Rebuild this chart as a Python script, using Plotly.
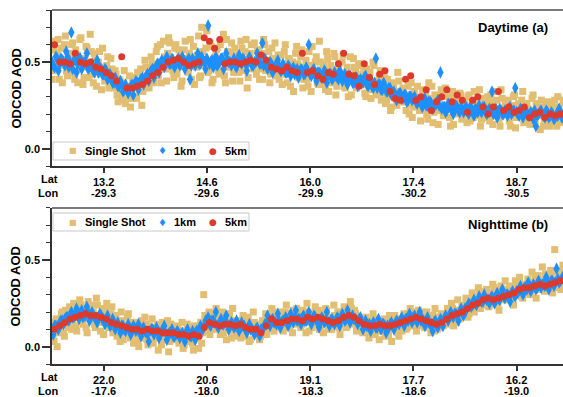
import numpy as np
import plotly.graph_objects as go

# ---------------- data (AOD values in hundredths) ----------------
day_lat = ["13.2", "14.6", "16.0", "17.4", "18.7"]
day_lon = ["-29.3", "-29.6", "-29.9", "-30.2", "-30.5"]
night_lat = ["22.0", "20.6", "19.1", "17.7", "16.2"]
night_lon = ["-17.6", "-18.0", "-18.3", "-18.6", "-19.0"]
tick_index = [10, 30, 50, 70, 90]
legend_names = ["Single Shot", "1km", "5km"]

day_5km = [60,50,50,49,55,50,49,50,47,46,
           44,42,39,53,35,35,36,37,39,42,
           44,47,50,51,52,50,48,49,50,64,
           62,58,63,49,50,50,49,50,51,50,
           54,51,47,46,45,47,45,44,55,44,
           45,42,40,44,43,49,55,43,42,36,
           49,41,37,43,45,33,29,28,40,42,
           28,30,34,22,27,30,34,27,31,28,
           21,28,30,24,20,24,33,22,24,21,
           22,24,18,20,21,18,20,19,20,19]

day_1km_a = [48,53,45,52,50,56,47,67,51,44,
             52,46,50,55,47,49,44,51,47,43,
             46,40,43,38,41,36,39,33,37,32,
             36,31,39,34,40,37,42,39,45,41,
             48,44,51,47,53,49,52,47,51,48,
             53,46,50,40,52,48,55,49,51,46,
             71,50,47,53,49,52,46,55,50,48,
             52,47,54,49,51,45,53,48,50,55,
             49,61,52,46,50,44,48,51,45,49,
             44,48,42,47,45,41,46,43,47,60,
             42,46,39,44,41,45,38,43,40,44,
             41,45,39,43,37,42,38,41,36,40,
             38,42,36,40,35,52,37,34,38,33,
             35,31,33,28,32,29,31,27,30,28,
             30,26,28,24,29,25,27,23,26,28,
             44,24,21,26,23,20,25,22,24,21,
             24,20,23,19,22,25,21,24,20,23,
             33,21,18,23,20,22,19,24,21,35,
             20,23,18,22,19,21,17,13,20,22,
             19,22,18,21,17,20,23,18,21,19]

day_1km_b = [50,47,52,49,51,48,53,50,46,51,
             49,52,48,50,46,48,45,47,44,46,
             43,45,41,40,38,39,36,37,34,35,
             34,37,36,38,39,41,40,43,44,46,
             46,49,48,50,51,50,49,51,50,52,
             49,51,50,52,48,50,51,49,53,50,
             52,49,51,50,48,50,52,49,51,50,
             50,48,51,50,52,49,50,51,48,50,
             51,49,48,50,47,49,46,48,47,45,
             46,44,47,45,43,46,44,45,43,45,
             43,45,42,44,43,41,44,42,43,41,
             42,40,43,41,39,42,40,38,41,39,
             39,41,37,39,36,38,35,37,34,36,
             33,35,32,31,30,32,29,31,28,30,
             29,27,28,26,27,25,27,26,24,26,
             25,23,24,22,25,23,22,24,21,23,
             23,21,24,22,23,21,22,24,21,22,
             22,20,23,21,22,20,21,23,20,22,
             21,19,22,20,21,19,20,22,19,21,
             20,18,21,19,20,18,19,21,18,20]

day_single_a = [62,45,55,40,58,48,65,42,53,60,
                44,57,38,63,50,41,59,47,66,43,
                55,36,50,43,58,39,48,35,52,41,
                45,31,40,28,38,26,33,42,29,37,
                30,44,34,25,40,47,36,43,49,38,
                56,42,60,47,53,39,64,50,45,58,
                43,57,36,52,62,46,55,40,59,48,
                54,41,70,48,58,44,61,38,52,57,
                45,60,50,42,63,47,55,39,58,51,
                44,62,48,56,35,53,60,46,50,57,
                40,55,63,45,51,38,58,49,42,54,
                48,37,56,43,52,36,50,44,59,41,
                53,35,47,40,56,33,45,50,38,62,
                41,48,34,52,45,38,55,31,46,42,
                50,36,44,30,53,41,47,35,49,38,
                43,32,46,36,29,50,38,33,42,28,
                37,26,40,31,24,35,29,44,27,33,
                30,22,36,26,18,33,25,29,16,34,
                28,20,38,24,15,31,22,26,34,19,
                35,25,18,29,14,27,21,32,17,26,
                20,30,16,25,33,19,27,13,24,29,
                18,26,31,14,23,28,17,34,21,25,
                27,16,24,30,12,22,19,28,15,25,
                23,14,29,18,26,20,11,24,17,27,
                15,25,20,28,13,22,18,26,16,23]

day_single_b = [40,57,47,63,52,38,60,45,55,49,
                61,40,54,46,64,37,52,58,41,56,
                38,51,44,56,34,47,40,53,37,46,
                35,43,27,39,32,45,30,36,24,41,
                41,29,38,46,33,51,42,35,53,44,
                44,59,50,38,62,46,55,61,48,41,
                60,47,53,39,57,50,44,63,51,37,
                47,65,42,56,50,68,45,59,40,53,
                58,43,52,66,38,56,48,61,44,54,
                52,39,58,45,63,41,55,49,61,43,
                57,46,40,60,48,56,43,52,61,45,
                40,54,45,60,38,51,47,33,55,49,
                46,57,40,51,36,48,59,42,53,37,
                50,37,45,56,33,48,40,53,36,49,
                43,54,35,47,40,31,52,44,38,48,
                37,47,30,41,44,34,48,31,39,45,
                32,41,28,36,22,38,33,25,39,30,
                35,27,31,20,38,24,30,36,22,28,
                23,33,17,29,36,21,27,14,30,24,
                21,30,25,13,33,20,28,24,31,19,
                26,15,31,22,18,28,21,34,17,27,
                24,30,16,27,19,33,22,13,29,20,
                20,28,13,25,31,18,26,22,33,17,
                26,17,22,31,15,24,19,28,13,21,
                22,13,27,17,24,30,15,21,28,18]

night_5km = [10,12,14,16,17,18,19,18,18,17,
             16,14,13,12,11,10,10,9,10,9,
             9,8,8,8,7,7,6,7,6,11,
             14,13,12,13,13,12,13,11,10,10,
             8,12,16,14,14,15,16,16,15,17,
             16,17,16,15,14,15,17,18,17,15,
             13,12,12,13,12,12,13,14,15,16,
             17,16,15,14,13,14,16,18,19,20,
             22,24,25,27,28,27,28,29,30,31,
             33,34,34,35,36,35,36,37,38,39]

night_1km_a = [7,12,10,15,13,17,15,20,17,22,
               16,21,18,23,15,20,17,14,19,16,
               13,18,12,16,10,14,8,12,9,13,
               7,12,9,13,6,11,8,3,10,7,
               11,5,9,12,4,8,10,6,9,5,
               8,3,10,6,9,4,8,12,10,15,
               17,12,15,20,11,16,13,18,10,14,
               11,15,9,14,12,8,13,10,7,11,
               6,10,13,18,12,16,14,19,11,15,
               17,12,19,14,21,16,13,18,15,20,
               13,18,15,11,17,14,20,12,16,13,
               17,12,19,15,21,14,18,16,13,17,
               10,15,12,9,14,11,16,10,13,8,
               11,14,10,15,13,17,12,16,19,14,
               18,14,20,16,12,17,13,9,15,11,
               16,12,18,15,20,17,19,15,22,18,
               21,25,23,27,24,29,26,30,27,25,
               29,25,31,27,33,28,30,26,32,29,
               31,35,30,34,37,32,36,33,38,34,
               36,40,33,38,35,45,37,39,42,38]

night_1km_b = [10,12,11,14,15,16,17,18,17,19,
               18,19,17,18,20,17,18,16,17,18,
               16,15,14,13,14,12,11,12,10,11,
               10,9,11,10,8,10,9,8,9,10,
               9,8,7,9,8,7,8,6,7,8,
               7,6,8,7,6,7,9,10,11,12,
               14,13,15,14,12,14,13,15,13,12,
               13,12,13,11,12,10,11,10,9,10,
               9,10,11,13,14,15,14,13,15,14,
               15,16,14,16,17,15,16,17,15,16,
               16,15,17,15,14,16,15,14,15,14,
               15,16,15,17,16,18,17,16,15,16,
               14,13,12,13,12,13,11,12,13,12,
               12,13,12,13,14,15,14,16,15,16,
               17,16,17,15,15,14,14,13,14,13,
               14,15,16,17,17,18,19,18,20,19,
               22,23,24,24,25,26,27,26,28,27,
               28,27,29,28,30,29,30,29,31,30,
               32,33,32,34,33,35,34,35,34,36,
               36,35,37,36,38,37,39,38,40,39]

night_single_a = [5,14,0,12,19,8,21,13,23,10,
                  25,12,20,27,15,22,11,26,18,24,
                  13,28,17,9,22,15,25,11,19,8,
                  16,6,13,20,4,11,17,7,14,2,
                  12,3,9,15,5,13,1,10,16,6,
                  11,-2,8,14,4,10,-3,13,6,9,
                  12,2,9,-1,7,13,3,10,-2,8,
                  5,12,2,30,9,16,7,19,12,22,
                  15,7,20,11,4,17,9,22,13,6,
                  14,5,18,9,16,3,12,20,7,11,
                  4,13,8,19,11,16,22,9,18,13,
                  20,10,17,24,12,19,8,15,22,14,
                  11,21,14,25,9,18,13,23,16,10,
                  19,8,22,13,17,10,24,14,20,7,
                  16,23,11,19,26,13,21,9,17,12,
                  8,16,11,5,14,19,7,13,4,10,
                  15,6,12,18,3,11,16,8,14,9,
                  19,10,16,22,12,18,9,21,14,17,
                  11,20,13,8,18,22,10,15,19,12,
                  14,22,17,25,12,20,27,16,23,18,
                  28,17,25,31,20,27,34,22,30,24,
                  33,23,30,36,26,32,21,35,29,38,
                  27,35,31,24,38,33,40,29,36,31,
                  39,30,43,35,28,41,37,46,32,40,
                  35,44,31,56,38,42,33,47,39,52]

night_single_b = [10,3,16,8,12,20,6,15,11,18,
                  14,21,9,17,24,13,19,8,22,16,
                  20,11,24,14,18,7,21,13,16,23,
                  9,18,11,3,15,8,12,19,5,13,
                  7,14,0,11,8,17,4,12,9,2,
                  5,13,9,1,12,7,15,3,11,5,
                  4,10,6,14,1,9,5,11,2,12,
                  11,-1,14,8,18,11,20,10,15,19,
                  10,18,14,8,16,12,19,5,15,11,
                  9,15,11,6,13,17,4,10,14,8,
                  10,6,15,12,7,17,14,20,11,16,
                  12,17,9,20,15,11,18,21,13,17,
                  19,13,17,8,20,15,11,19,14,21,
                  12,17,14,21,10,16,12,18,15,11,
                  20,14,18,12,16,22,14,19,11,15,
                  14,9,17,12,8,15,11,16,9,14,
                  10,16,13,7,15,11,18,12,6,13,
                  13,17,11,19,15,20,13,17,12,20,
                  16,13,18,12,15,9,17,14,11,16,
                  18,13,20,15,22,17,14,21,19,24,
                  22,26,19,24,29,23,27,32,25,28,
                  27,31,24,29,34,28,25,31,27,33,
                  32,29,34,27,31,36,30,34,28,35,
                  33,37,31,36,40,34,38,33,36,42,
                  40,36,43,38,34,41,37,44,40,36]

# ---------------- styling ----------------
FONT = "Liberation Sans, Arial, Helvetica, sans-serif"
SYMFONT = "DejaVu Sans, sans-serif"
C_SS = "#E2BE72"
C_1K = "#1E8FFF"
C_5K = "#DC3A2C"
AX = "#333333"
BOLD11 = dict(family=FONT, size=11, color="black", weight="bold")
BOLD13 = dict(family=FONT, size=13, color="black", weight="bold")


def positions(values, offset=0.5):
    n = len(values)
    return (np.arange(n) + offset) * 100.0 / n


def two_pass(a, b):
    x = np.concatenate([positions(a, 0.5), positions(b, 0.0)])
    y = np.concatenate([np.array(a), np.array(b)]) / 100.0
    return x, y


fig = go.Figure()

panels = [
    ("x", "y", day_single_a, day_single_b, day_1km_a, day_1km_b, day_5km),
    ("x2", "y2", night_single_a, night_single_b, night_1km_a, night_1km_b, night_5km),
]
for xa, ya, ssa, ssb, k1a, k1b, k5 in panels:
    xs, ys = two_pass(ssa, ssb)
    fig.add_trace(go.Scatter(x=xs, y=ys, mode="markers", name=legend_names[0],
                             xaxis=xa, yaxis=ya, showlegend=False,
                             marker=dict(symbol="square", size=7, color=C_SS, line=dict(width=0))))
    xk, yk = two_pass(k1a, k1b)
    fig.add_trace(go.Scatter(x=xk, y=yk, mode="markers", name=legend_names[1],
                             xaxis=xa, yaxis=ya, showlegend=False,
                             marker=dict(symbol="diamond-tall", size=9, color=C_1K, line=dict(width=0))))
    fig.add_trace(go.Scatter(x=positions(k5), y=np.array(k5) / 100.0, mode="markers",
                             name=legend_names[2], xaxis=xa, yaxis=ya, showlegend=False,
                             marker=dict(symbol="circle", size=7, color=C_5K, line=dict(width=0))))

top_dom = [0.5593, 1.0]
bot_dom = [0.0, 0.4407]

xcommon = dict(range=[0, 99], showline=True, linecolor=AX, linewidth=1.5,
               ticks="outside", ticklen=5, tickwidth=1.5, tickcolor=AX,
               showgrid=False, zeroline=False, tickvals=tick_index, tickfont=BOLD11)
ycommon = dict(range=[-0.1, 0.8], showline=True, linecolor=AX, linewidth=1.5,
               ticks="outside", ticklen=8, tickwidth=1.5, tickcolor=AX,
               showgrid=False, zeroline=False, tickvals=[0.0, 0.5],
               tickformat=".1f",
               minor=dict(dtick=0.1, tick0=0, ticks="outside", ticklen=4,
                          tickcolor=AX, tickwidth=1, showgrid=False),
               tickfont=BOLD11)

fig.update_layout(
    width=563, height=397,
    margin=dict(l=52, r=0, t=10, b=33),
    paper_bgcolor="white", plot_bgcolor="white",
    font=dict(family=FONT, size=11, color="black"),
    xaxis=dict(xcommon, domain=[0, 1], anchor="y", ticktext=day_lat),
    yaxis=dict(ycommon, domain=top_dom, anchor="x"),
    xaxis2=dict(xcommon, domain=[0, 1], anchor="y2", ticktext=night_lat),
    yaxis2=dict(ycommon, domain=bot_dom, anchor="x2"),
    showlegend=False,
)

# frame top lines
for yd in (top_dom, bot_dom):
    fig.add_shape(type="line", xref="paper", yref="paper", x0=0, x1=1, y0=yd[1], y1=yd[1],
                  line=dict(color="#7A7A7A", width=2))

annots = [
    dict(text="Daytime (a)", xref="paper", yref="paper", x=0.975, y=top_dom[1],
         xanchor="right", yanchor="middle", yshift=-17, showarrow=False, font=BOLD13),
    dict(text="Nighttime (b)", xref="paper", yref="paper", x=0.975, y=bot_dom[1],
         xanchor="right", yanchor="middle", yshift=-17, showarrow=False, font=BOLD13),
]
for xr, yr, yd, lons in (("x", "y domain", top_dom, day_lon), ("x2", "y2 domain", bot_dom, night_lon)):
    # y-axis title
    annots.append(dict(text="ODCOD AOD", xref="paper", yref="paper", x=-0.0695,
                       y=(yd[0] + yd[1]) / 2, textangle=-90, xanchor="center", yanchor="middle",
                       showarrow=False, font=BOLD13))
    # Lat / Lon row labels
    annots.append(dict(text="Lat", xref="paper", yref=yr, x=0, y=0, xanchor="center",
                       yanchor="middle", xshift=-3, yshift=-13, showarrow=False, font=BOLD11))
    annots.append(dict(text="Lon", xref="paper", yref=yr, x=0, y=0, xanchor="center",
                       yanchor="middle", xshift=-4, yshift=-27, showarrow=False, font=BOLD11))
    # second tick-label row (longitude)
    for tv, lon in zip(tick_index, lons):
        annots.append(dict(text=lon, xref=xr, yref=yr, x=tv, y=0, xanchor="center",
                           yanchor="middle", yshift=-27, showarrow=False, font=BOLD11))

# legends (one box per panel)
legend_boxes = [(0.5763, 0.6271, 0.6017), (0.3757, 0.4266, 0.4011)]
sym_x = [0.0411, 0.2153, 0.3151]
txt_x = [0.0607, 0.2348, 0.3346]
symbols = [("\u25A0", C_SS, 8), ("\u2666", C_1K, 10), ("\u25CF", C_5K, 9)]
for y0, y1, yc in legend_boxes:
    fig.add_shape(type="rect", xref="paper", yref="paper", x0=0.002, x1=0.3855, y0=y0, y1=y1,
                  line=dict(color="#C8C8C8", width=1), fillcolor="white", layer="above")
    for (ch, col, sz), sx, tx, name in zip(symbols, sym_x, txt_x, legend_names):
        annots.append(dict(text=ch, xref="paper", yref="paper", x=sx, y=yc,
                           xanchor="center", yanchor="middle", showarrow=False,
                           font=dict(family=SYMFONT, size=sz, color=col)))
        annots.append(dict(text=name, xref="paper", yref="paper", x=tx, y=yc,
                           xanchor="left", yanchor="middle", showarrow=False, font=BOLD11))
fig.update_layout(annotations=annots)

fig.write_html("out.html")
